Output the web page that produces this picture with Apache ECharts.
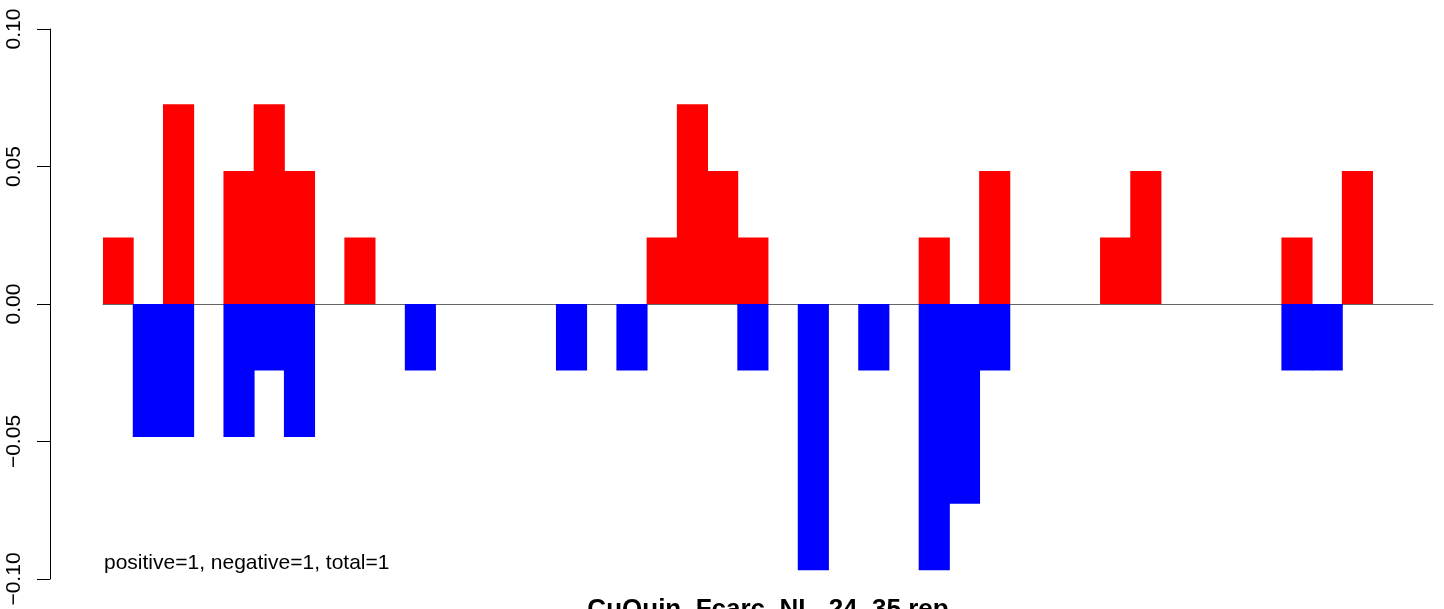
<!DOCTYPE html>
<html>
<head>
<meta charset="utf-8">
<title>CuQuin_Fcarc_NL_24_35 rep</title>
<script src="https://cdn.jsdelivr.net/npm/echarts@6/dist/echarts.min.js"></script>
<style>
  html, body { margin: 0; padding: 0; background: #fff; }
  #chart { width: 1444px; height: 609px; }
</style>
</head>
<body>
<div id="chart"></div>
<script>
// 44 bins, values (one step is about 0.0242)
var bins = [];
for (var i = 0; i < 44; i++) bins.push(String(i + 1));

var posVals = [0.0242, 0, 0.0726, 0, 0.0484, 0.0726, 0.0484, 0, 0.0242, 0,
               0, 0, 0, 0, 0, 0, 0, 0, 0.0242, 0.0726,
               0.0484, 0.0242, 0, 0, 0, 0, 0, 0.0242, 0, 0.0484,
               0, 0, 0, 0.0242, 0.0484, 0, 0, 0, 0, 0.0242,
               0, 0.0484, 0, 0];
var negVals = [0, -0.0484, -0.0484, 0, -0.0484, -0.0242, -0.0484, 0, 0, 0,
               -0.0242, 0, 0, 0, 0, -0.0242, 0, -0.0242, 0, 0,
               0, -0.0242, 0, -0.0968, 0, -0.0242, 0, -0.0968, -0.0726, -0.0242,
               0, 0, 0, 0, 0, 0, 0, 0, 0, -0.0242,
               -0.0242, 0, 0, 0];
var yTicks = [-0.10, -0.05, 0.00, 0.05, 0.10];

var titleText = "CuQuin_Fcarc_NL_24_35 rep";
var noteText = "positive=1, negative=1, total=1";
var fontFam = "Liberation Sans, Arial, sans-serif";

// empty bins get no bar at all
function skipZero(arr) {
    return arr.map(function (v) { return v === 0 ? "-" : v; });
}

var myChart = echarts.init(document.getElementById("chart"));
var option = {
    animation: false,
    backgroundColor: "#fff",
    grid: { left: 103, right: 11, top: 29, bottom: 30 },
    xAxis: {
        type: "category",
        data: bins,
        boundaryGap: true,
        axisLine: { show: true, onZero: true, lineStyle: { color: "#666", width: 1 } },
        axisTick: { show: false },
        axisLabel: { show: false },
        splitLine: { show: false }
    },
    yAxis: {
        type: "value",
        min: yTicks[0],
        max: yTicks[yTicks.length - 1],
        interval: 0.05,
        offset: 53,
        axisLine: { show: true, lineStyle: { color: "#000", width: 1 } },
        axisTick: { show: true, length: 13, lineStyle: { color: "#000", width: 1 } },
        axisLabel: {
            rotate: 90,
            margin: 25,
            color: "#000",
            fontSize: 21,
            fontFamily: fontFam,
            formatter: function (v) {
                return v.toFixed(2).replace("-", "\u2212");
            }
        },
        splitLine: { show: false }
    },
    series: [
        {
            name: "positive",
            type: "bar",
            data: skipZero(posVals),
            // a touch wider than the band so neighbours overlap, no seams
            barWidth: "103%",
            barGap: "-100%",
            itemStyle: { color: "#ff0000" }
        },
        {
            name: "negative",
            type: "bar",
            data: skipZero(negVals),
            barWidth: "103%",
            barGap: "-100%",
            itemStyle: { color: "#0000ff" }
        }
    ],
    graphic: [
        {
            type: "text",
            x: 104,
            y: 563,
            style: {
                text: noteText,
                fill: "#000",
                font: "21px " + fontFam,
                textAlign: "left",
                textVerticalAlign: "middle"
            }
        },
        {
            type: "text",
            x: 768,
            y: 610,
            style: {
                text: titleText,
                fill: "#000",
                font: "bold 26px " + fontFam,
                textAlign: "center",
                textVerticalAlign: "middle"
            }
        }
    ]
};
myChart.setOption(option);
</script>
</body>
</html>
